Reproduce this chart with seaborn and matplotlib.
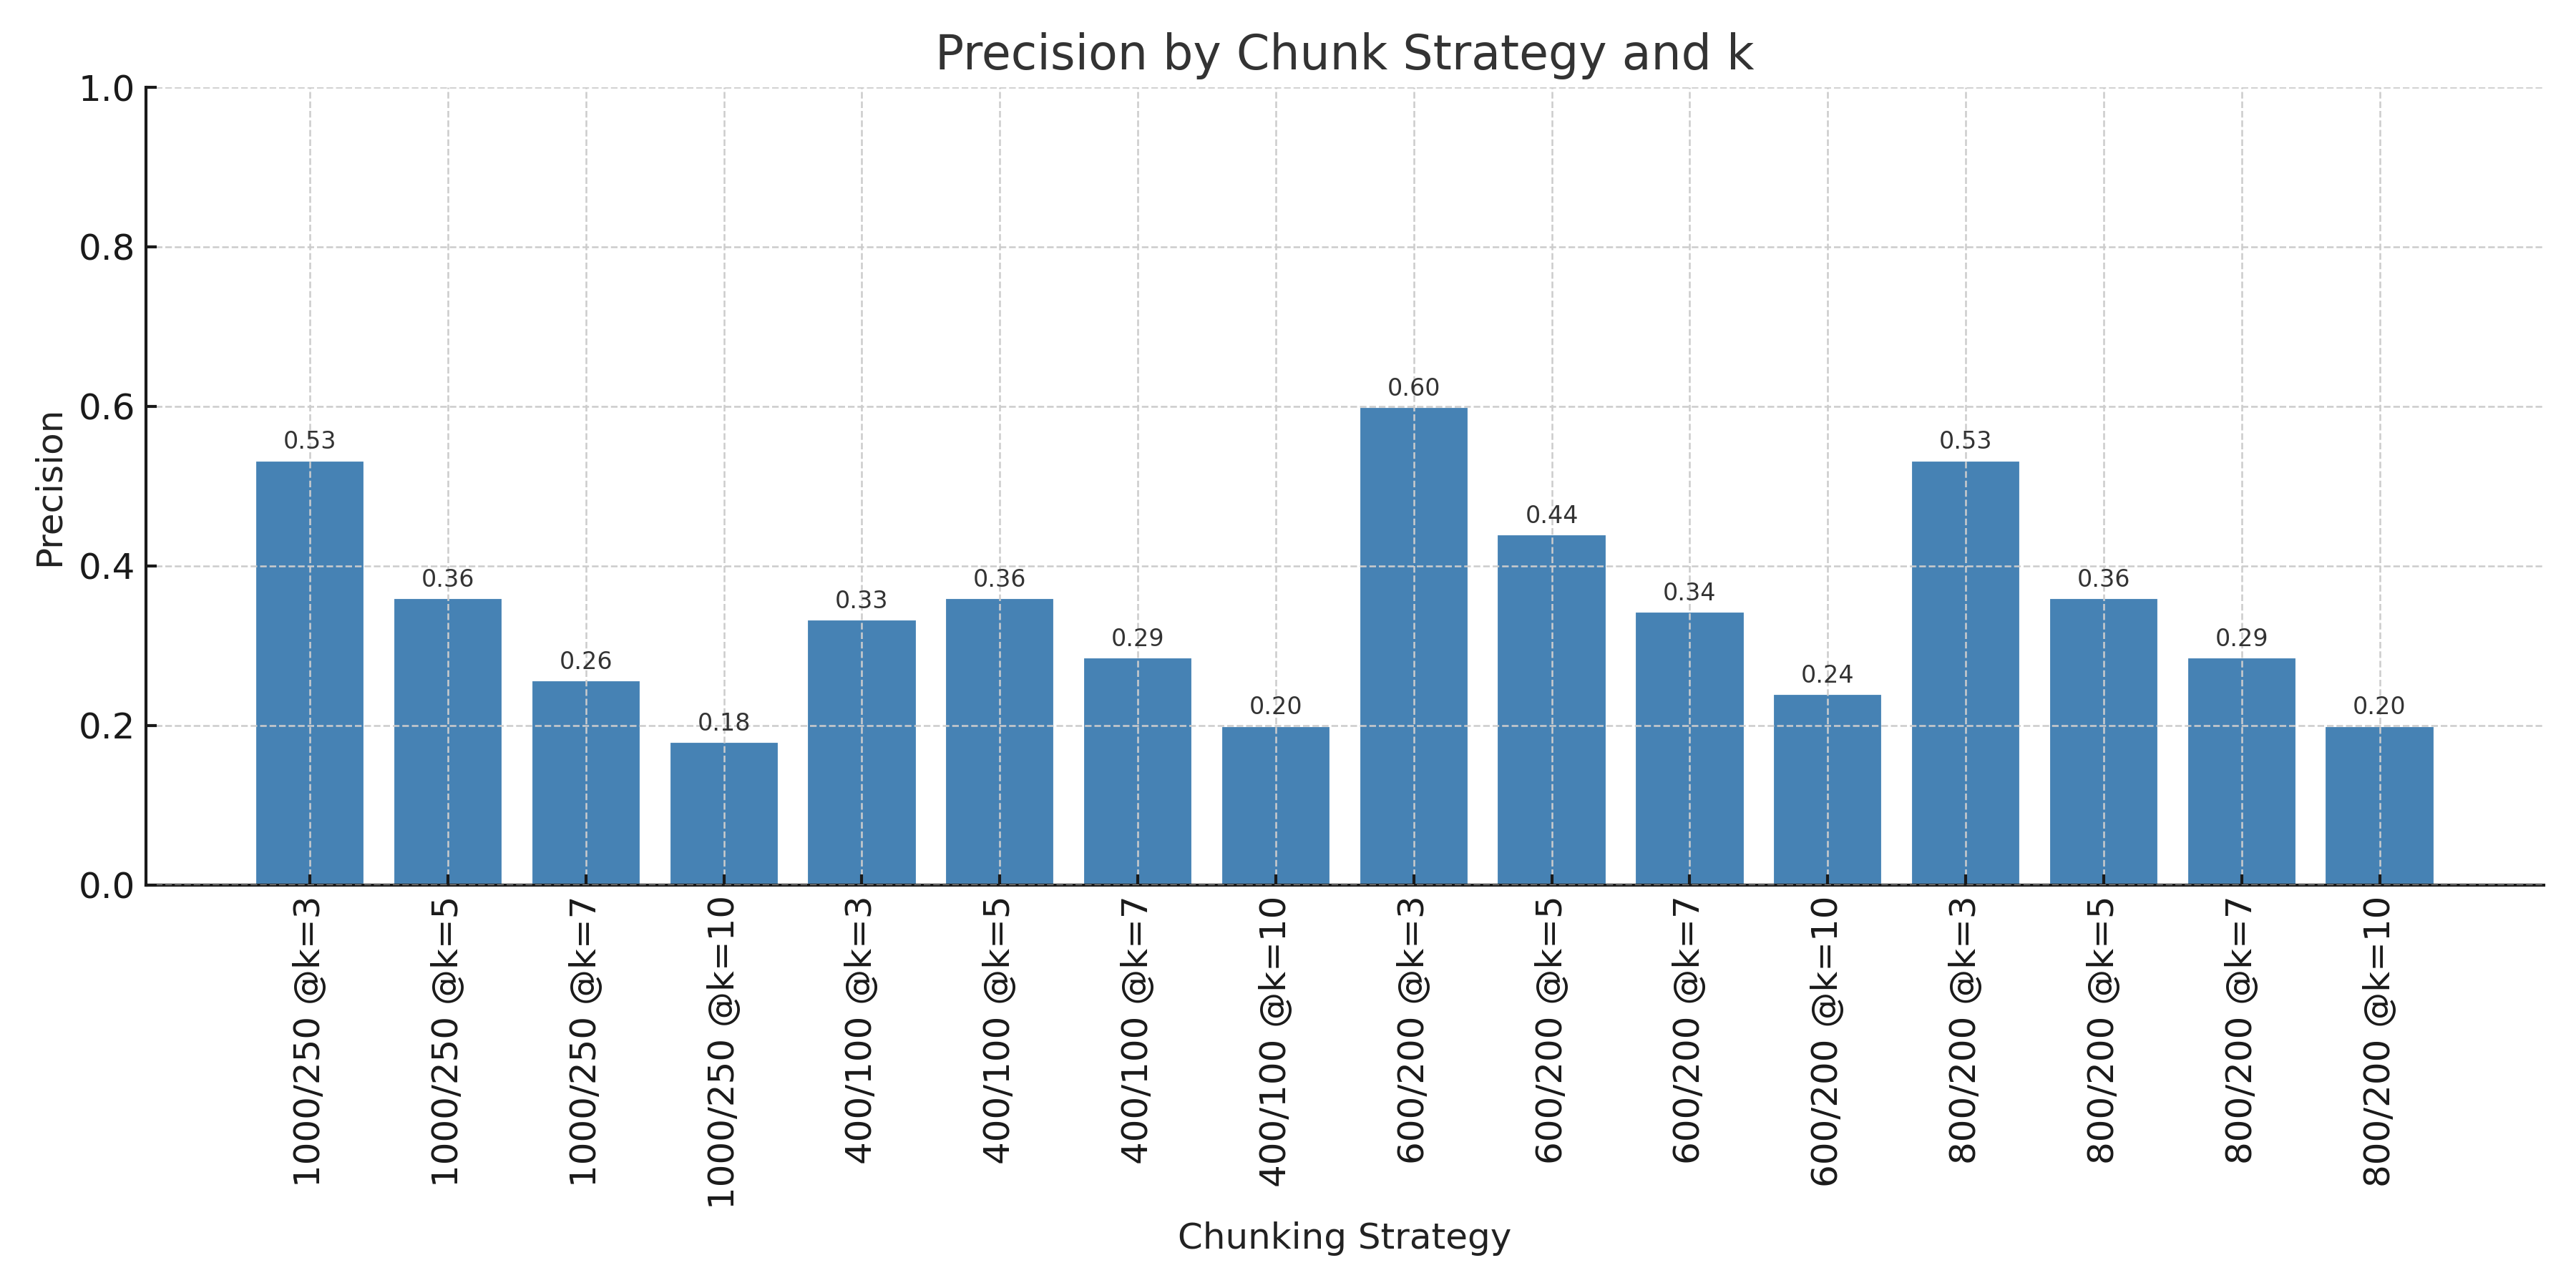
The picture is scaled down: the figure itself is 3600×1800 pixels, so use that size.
import matplotlib
matplotlib.use("Agg")
import matplotlib.pyplot as plt
import seaborn as sns
import pandas as pd

strategies = ["1000/250", "1000/250", "1000/250", "1000/250",
              "400/100", "400/100", "400/100", "400/100",
              "600/200", "600/200", "600/200", "600/200",
              "800/200", "800/200", "800/200", "800/200"]
k_values = [3, 5, 7, 10, 3, 5, 7, 10, 3, 5, 7, 10, 3, 5, 7, 10]
precision = [0.533, 0.36, 0.257, 0.18,
             0.333, 0.36, 0.286, 0.20,
             0.60, 0.44, 0.343, 0.24,
             0.533, 0.36, 0.286, 0.20]

labels = [f"{s} @k={k}" for s, k in zip(strategies, k_values)]
df = pd.DataFrame({"label": labels, "precision": precision})

sns.set_style("ticks")
plt.rcParams['font.family'] = ['DejaVu Sans']

fig, ax = plt.subplots(figsize=(12, 6), dpi=300)
sns.barplot(data=df, x="label", y="precision", color="steelblue",
            saturation=1, width=0.8, ax=ax)

for c in ax.containers:
    ax.bar_label(c, labels=[f"{v:.2f}" for v in precision], padding=2,
                 fontsize=8, color="#333333")

n = len(labels)
pad = (n - 1 + 0.8) * 0.05 + 0.4
ax.set_xlim(-pad, n - 1 + pad)
ax.set_ylim(0, 1.0)
ax.set_title("Precision by Chunk Strategy and k", fontsize=16, color="#333333")
ax.set_xlabel("Chunking Strategy", fontsize=12, color="#222222")
ax.set_ylabel("Precision", fontsize=12, color="#222222")
ax.tick_params(axis="x", labelrotation=90, labelsize=12)
ax.tick_params(axis="both", direction="in", length=3.5, width=1.0,
               color="#1a1a1a", labelcolor="#1a1a1a")
ax.tick_params(axis="y", labelsize=12)
ax.grid(True, linestyle="--", color="#cccccc", linewidth=0.6)
ax.set_axisbelow(False)
sns.despine(ax=ax)
for s in ["left", "bottom"]:
    ax.spines[s].set_linewidth(1.0)
    ax.spines[s].set_color("#1a1a1a")
fig.tight_layout()
fig.savefig("out.png", dpi=300)
